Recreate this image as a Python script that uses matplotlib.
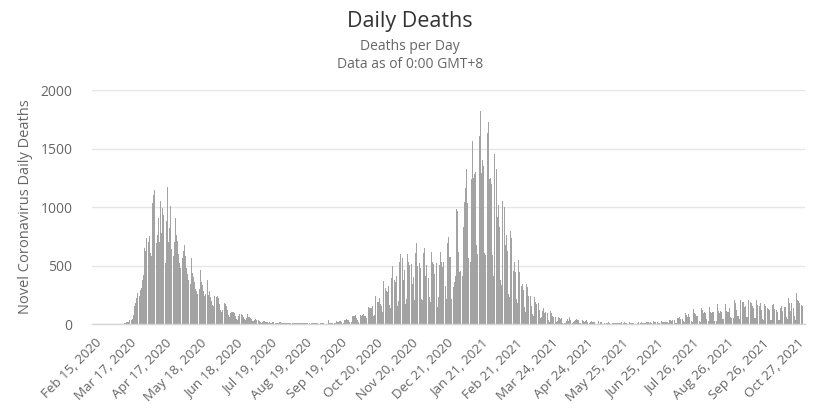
import numpy as np
import pandas as pd
import matplotlib
matplotlib.use("Agg")
import matplotlib.pyplot as plt

plt.rcParams['font.family'] = ['Open Sans', 'DejaVu Sans']

# daily deaths, one row per week (Sat..Fri), starting Sat Feb 15, 2020
deaths_2020 = [
    0, 0, 0, 0, 0, 0, 0,
    0, 0, 0, 0, 0, 0, 0,
    0, 0, 0, 0, 0, 1, 0,
    1, 0, 1, 3, 2, 6, 10,
    21, 14, 20, 30, 33, 40, 80,
    150, 177, 220, 263, 240, 291, 306,
    380, 420, 649, 620, 734, 700, 749,
    606, 580, 1034, 1106, 1149, 690, 760,
    906, 700, 1049, 780, 991, 934, 520,
    880, 1171, 700, 820, 1006, 640, 580,
    700, 906, 760, 706, 600, 520, 480,
    560, 620, 677, 577, 480, 430, 380,
    340, 563, 434, 400, 360, 300, 280,
    260, 300, 463, 360, 330, 280, 240,
    260, 377, 249, 280, 230, 200, 160,
    150, 240, 230, 240, 220, 170, 120,
    100, 120, 177, 170, 150, 120, 80,
    60, 90, 106, 100, 95, 70, 45,
    35, 70, 86, 85, 80, 60, 40,
    30, 55, 85, 63, 50, 40, 28,
    22, 30, 43, 34, 30, 25, 18,
    12, 20, 28, 25, 20, 16, 12,
    14, 10, 12, 16, 14, 12, 10,
    10, 8, 14, 14, 12, 12, 10,
    8, 6, 10, 12, 10, 9, 8,
    8, 6, 8, 10, 9, 8, 6,
    6, 5, 8, 10, 9, 8, 6,
    6, 4, 8, 9, 8, 7, 6,
    5, 3, 4, 8, 7, 8, 6,
    3, 2, 2, 32, 8, 6, 5,
    9, 5, 9, 27, 20, 21, 27,
    27, 18, 11, 37, 37, 40, 34,
    34, 17, 13, 71, 71, 66, 77,
    49, 33, 19, 76, 70, 77, 87,
    65, 65, 50, 143, 137, 138, 136,
    150, 67, 80, 241, 191, 189, 224,
    174, 151, 102, 367, 310, 280, 274,
    326, 162, 136, 397, 492, 378, 355,
    413, 156, 194, 532, 595, 563, 376,
    462, 168, 213, 598, 529, 501, 511,
    341, 398, 206, 608, 696, 498, 521,
    479, 215, 205, 603, 648, 414, 504,
    397, 231, 189, 616, 533, 516, 424,
    519, 144, 232, 506, 612, 532, 489,
    534, 326, 215, 691, 744, 570, 574,
    210, 316, 357, 414, 981, 964, 613,
]

deaths_2021 = [
    445, 454, 407, 830, 1041, 1162, 1325,
    1035, 563, 529, 1243, 1564, 1248, 1280,
    1295, 671, 599, 1610, 1820, 1290, 1401,
    1348, 610, 592, 1631, 1725, 1239, 1245,
    1200, 587, 406, 1449, 1322, 915, 1014,
    828, 373, 333, 1052, 1001, 678, 758,
    621, 258, 230, 799, 738, 454, 533,
    445, 215, 178, 548, 442, 323, 345,
    290, 144, 104, 343, 315, 242, 236,
    158, 82, 65, 231, 190, 175, 181,
    121, 52, 64, 110, 141, 95, 101,
    96, 33, 17, 112, 98, 70, 63,
    58, 19, 23, 56, 52, 43, 51,
    10, 10, 9, 26, 45, 23, 60,
    34, 7, 13, 23, 30, 40, 34,
    32, 10, 4, 33, 22, 18, 29,
    32, 17, 11, 17, 29, 17, 15,
    15, 1, 1, 25, 2, 13, 18,
    4, 4, 5, 11, 11, 17, 7,
    4, 1, 7, 9, 7, 12, 5,
    6, 5, 5, 13, 10, 13, 8,
    6, 0, 1, 14, 12, 10, 11,
    4, 4, 3, 6, 13, 11, 17,
    12, 6, 7, 10, 19, 19, 11,
    14, 10, 4, 27, 19, 16, 18,
    11, 5, 3, 23, 14, 18, 18,
    18, 15, 9, 37, 33, 26, 34,
    34, 6, 6, 50, 49, 63, 41,
    41, 25, 19, 96, 73, 63, 84,
    64, 28, 14, 131, 91, 86, 68,
    65, 24, 21, 138, 119, 92, 103,
    93, 39, 26, 146, 100, 94, 100,
    104, 28, 26, 170, 111, 93, 114,
    104, 40, 40, 174, 113, 103, 100,
    133, 61, 48, 50, 207, 178, 121,
    68, 68, 45, 209, 191, 185, 147,
    156, 56, 61, 201, 185, 178, 158,
    136, 49, 49, 203, 166, 150, 180,
    122, 40, 37, 167, 150, 135, 127,
    122, 33, 35, 166, 167, 127, 119,
    105, 34, 38, 136, 157, 115, 148,
    148, 57, 45, 223, 179, 115, 180,
    135, 72, 38, 263, 207, 199, 180,
    160, 150,
]

deaths = np.array(deaths_2020 + deaths_2021)
dates = pd.date_range("2020-02-15", periods=len(deaths), freq="D")
tick_step = 31
y_ticks = [0, 500, 1000, 1500, 2000]

fig = plt.figure(figsize=(8.2, 4.17), dpi=100)
ax = fig.add_axes([92/820, 1 - 324/417, 713/820, 234/417])

x = np.arange(len(deaths))
ax.bar(x, deaths, width=0.9, color='#a3a3a3', linewidth=0)

ax.set_xlim(-2.5, len(deaths) + 1.5)
ax.set_ylim(0, 2000)
ax.set_yticks(y_ticks)
ax.set_yticklabels([str(v) for v in y_ticks])
ax.grid(axis='y', color='#e6e6e6', linewidth=1)
ax.set_axisbelow(True)

tick_pos = x[::tick_step]
tick_lab = [f"{d:%b} {d.day}, {d.year}" for d in dates[::tick_step]]
ax.set_xticks(tick_pos)
ax.set_xticklabels(tick_lab, rotation=45, ha='right', rotation_mode='anchor',
                   fontsize=9.6, color='#666666')
ax.tick_params(axis='x', length=0, pad=9)
ax.tick_params(axis='y', length=0, pad=14, labelsize=10, labelcolor='#666666')

for s in ['top', 'right', 'left']:
    ax.spines[s].set_visible(False)
ax.spines['bottom'].set_color('#d6d6d6')
ax.spines['bottom'].set_linewidth(1)

ax.set_ylabel("Novel Coronavirus Daily Deaths", fontsize=10.5, color='#666666')
ax.yaxis.set_label_coords(-0.083, 0.5)

fig.text(0.5, 1 - 21/417, "Daily Deaths", ha='center', va='center',
         fontsize=15.5, color='#333333')
fig.text(0.5, 1 - 47/417, "Deaths per Day", ha='center', va='center',
         fontsize=10, color='#666666')
fig.text(0.5, 1 - 65/417, "Data as of 0:00 GMT+8", ha='center', va='center',
         fontsize=10, color='#666666')

fig.savefig("out.png", dpi=100)
